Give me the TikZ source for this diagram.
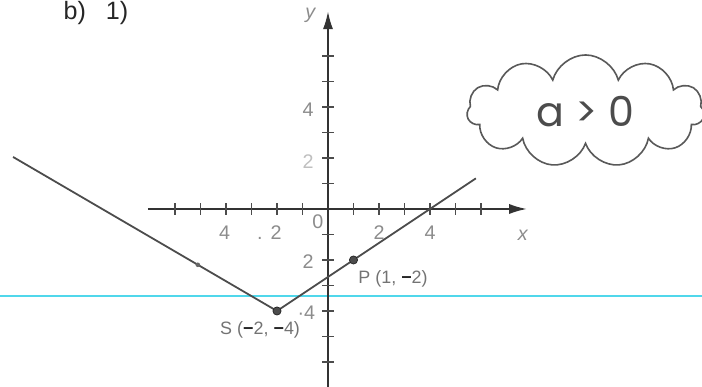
\documentclass[tikz,border=0pt]{standalone}
\usepackage{fontspec}
\setmainfont{Liberation Sans}
\newfontfamily\handfont{Poppins}
\usepackage{tikz}
\usetikzlibrary{positioning, shapes.symbols, arrows.meta, calc}
\definecolor{scancyan}{RGB}{80,215,235}
\tikzstyle{axis} = [line width=1pt, black!80, -{Latex[length=3.5mm,width=2mm]}]
\tikzstyle{graph} = [line width=1pt, black!70]
\newcommand{\mns}{\textcolor{black!85}{\textbf{−}}}

\begin{document}
\begin{tikzpicture}[x=0.5cm, y=0.5cm,
    tick/.style={line width=0.6pt, black!70},
    ticklabel/.style={text=black!45, font=\fontsize{11}{13}\selectfont, inner sep=0pt},
    pt/.style={circle, fill=black!70, draw=black!85, inner sep=0pt, minimum size=1.6mm},
    smallpt/.style={circle, fill=black!60, inner sep=0pt, minimum size=0.9mm},
    ptlabel/.style={text=black!55, font=\normalsize, anchor=west, inner sep=0pt},
    thought/.style={cloud, draw=black!65, line width=0.9pt, cloud puffs=11, cloud ignores aspect, minimum width=4.65cm, minimum height=2.2cm, font=\handfont\fontsize{23}{27}\selectfont, text=black!70}]

    % Frame
    \useasboundingbox (-12.863,-6.980) rectangle (14.667,8.196);

    % Scan line
    \coordinate (scanL) at (-12.863,-3.41);
    \coordinate (scanR) at (14.667,-3.41);
    \draw[scancyan, line width=0.9pt] (scanL) -- (scanR);

    % Axes
    \coordinate (xmin) at (-7.06,0);
    \coordinate (xmax) at (7.8,0);
    \coordinate (ymin) at (0,-6.98);
    \coordinate (ymax) at (0,7.75);
    \draw[axis] (xmin) -- (xmax);
    \draw[axis] (ymin) -- (ymax);
    \foreach \i in {-6,...,-1,1,2,...,6} {
        \draw[tick] (\i,-0.22) -- (\i,0.22);
        \draw[tick] (-0.22,\i) -- (0.22,\i);
    }

    % Tick labels
    \node[ticklabel] (xlA) at (-4.05,-0.94) {4};
    \node[ticklabel] (xlB) at (-2.3,-0.94) {.\hspace{0.4em}2};
    \node[ticklabel] (orig) at (-0.4,-0.5) {0};
    \node[ticklabel] (xlC) at (2,-0.94) {2};
    \node[ticklabel] (xlD) at (4,-0.94) {4};
    \node[ticklabel] (xname) at (7.65,-1.02) {\textit{x}};
    \node[ticklabel] (ylA) at (-0.78,3.88) {4};
    \node[ticklabel, text=black!25] (ylB) at (-0.78,1.84) {2};
    \node[ticklabel] (ylC) at (-0.78,-2.08) {2};
    \node[ticklabel] (ylD) at (-0.85,-4.08) {·4};
    \node[ticklabel] (yname) at (-0.67,7.6) {\textit{y}};

    % Graph
    \coordinate (lend) at (-12.35,2.04);
    \coordinate (S) at (-2,-4);
    \coordinate (P) at (1,-2);
    \coordinate (rend) at (5.8,1.2);
    \draw[graph] (lend) -- (S) -- (rend);
    \node[pt] (Sdot) at (S) {};
    \node[pt] (Pdot) at (P) {};
    \node[smallpt] (Qdot) at ($(S)!0.3!(lend)$) {};
    \node[ptlabel] (Slabel) at (-4.24,-4.75) {S (\mns2, \mns4)};
    \node[ptlabel] (Plabel) at (1.18,-2.75) {P (1, \mns2)};

    % Heading and cloud
    \node[font=\fontsize{14}{16}\selectfont, text=black!85] (head) at (-9.1,7.7) {b)\hspace{0.8em}1)};
    \node[thought] (note) at (10.1,3.84) {a > 0};

\end{tikzpicture}
\end{document}
